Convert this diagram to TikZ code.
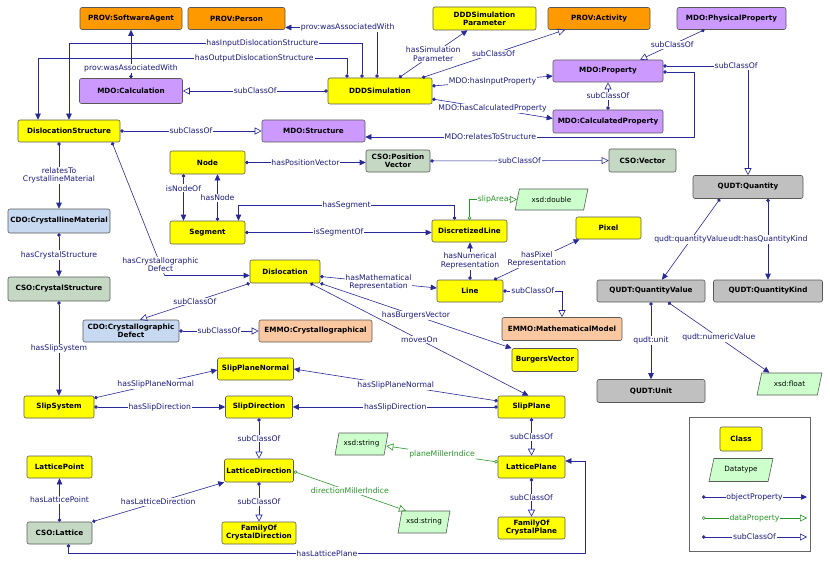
\documentclass[tikz,border=0pt]{standalone}
\usepackage{fontspec}
\setmainfont{DejaVu Sans}
\usetikzlibrary{arrows.meta,shapes.geometric}

\definecolor{clsyellow}{RGB}{255,255,0}
\definecolor{provorange}{RGB}{255,153,0}
\definecolor{mdopurple}{RGB}{204,153,255}
\definecolor{cdoblue}{RGB}{198,217,241}
\definecolor{csogreen}{RGB}{196,216,196}
\definecolor{qudtgray}{RGB}{192,192,192}
\definecolor{emmopeach}{RGB}{250,200,160}
\definecolor{dtgreen}{RGB}{204,255,204}
\definecolor{edgeblue}{RGB}{40,40,150}
\definecolor{textblue}{RGB}{26,26,128}
\definecolor{datagreen}{RGB}{40,150,40}

\tikzset{
  box/.style={rectangle, rounded corners=2pt, draw=black!65, line width=0.6pt, inner sep=1pt,
    align=center, font=\fontsize{7.2}{8}\selectfont\bfseries, minimum height=22pt},
  cls/.style={box, fill=clsyellow},
  prov/.style={box, fill=provorange},
  mdo/.style={box, fill=mdopurple},
  cdo/.style={box, fill=cdoblue},
  cso/.style={box, fill=csogreen},
  qudt/.style={box, fill=qudtgray},
  emmo/.style={box, fill=emmopeach},
  dtype/.style={trapezium, trapezium left angle=70, trapezium right angle=110, trapezium stretches=true,
    draw=black!65, line width=0.6pt, fill=dtgreen, inner sep=1pt, font=\fontsize{7.2}{8}\selectfont, minimum height=21pt},
  objprop/.style={draw=edgeblue, line width=0.6pt, {Circle[length=3.5pt]}-{Triangle[length=6pt,width=5.5pt]}},
  subcls/.style={draw=edgeblue, line width=0.6pt, {Circle[length=3.5pt]}-{Triangle[open,length=7pt,width=7pt]}},
  dataprop/.style={draw=datagreen, line width=0.6pt, {Circle[open,length=3.5pt]}-{Triangle[open,length=7pt,width=7pt]}},
  lbl/.style={fill=white, inner sep=0.8pt, text=textblue, font=\fontsize{7.7}{8.5}\selectfont},
  dlbl/.style={lbl, text=datagreen},
}

\begin{document}
\begin{tikzpicture}[x=1pt,y=-1pt]
\useasboundingbox (0,0) rectangle (830,567);

\node[prov, minimum width=102pt] (softagent) at (131,18.5) {PROV:SoftwareAgent};
\node[prov, minimum width=97pt] (person) at (236.5,18.5) {PROV:Person};
\node[cls, minimum width=103pt, minimum height=23pt] (simparam) at (484.5,18.5) {DDDSimulation\\Parameter};
\node[prov, minimum width=102pt] (activity) at (599,18.5) {PROV:Activity};
\node[mdo, minimum width=109pt] (physprop) at (731.5,18.5) {MDO:PhysicalProperty};
\node[mdo, minimum width=103pt, minimum height=25pt] (mcalc) at (131,91) {MDO:Calculation};
\node[cls, minimum width=104pt, minimum height=26pt] (sim) at (380,91) {DDDSimulation};
\node[mdo, minimum width=110pt] (prop) at (608,71) {MDO:Property};
\node[mdo, minimum width=110pt, minimum height=23pt] (calcprop) at (608,121.5) {MDO:CalculatedProperty};
\node[cls, minimum width=102pt] (dstruct) at (69,131) {DislocationStructure};
\node[mdo, minimum width=103pt] (structure) at (313.5,131) {MDO:Structure};
\node[cls, minimum width=75pt, minimum height=23pt] (gnode) at (207.5,162.5) {Node};
\node[cso, minimum width=64pt] (posvec) at (398,161) {CSO:Position\\Vector};
\node[cso, minimum width=67pt, minimum height=23pt] (vector) at (642.5,160.5) {CSO:Vector};
\node[qudt, minimum width=110pt, minimum height=23pt] (quantity) at (748,187) {QUDT:Quantity};
\node[cdo, minimum width=102pt, minimum height=24pt] (crysmat) at (59,221) {CDO:CrystallineMaterial};
\node[cls, minimum width=75pt, minimum height=23pt] (segment) at (207.5,232.5) {Segment};
\node[dtype, minimum width=73pt] (xdouble) at (551.5,199.5) {xsd:double};
\node[cls, minimum width=75pt] (dline) at (469.5,231) {DiscretizedLine};
\node[cls, minimum width=65pt] (pixel) at (608.5,228) {Pixel};
\node[cls, minimum width=70pt, minimum height=23pt] (disloc) at (285,271.5) {Dislocation};
\node[cls, minimum width=66pt] (mline) at (470,291) {Line};
\node[cso, minimum width=102pt, minimum height=24pt] (crysstruct) at (59,289) {CSO:CrystalStructure};
\node[qudt, minimum width=108pt] (qvalue) at (651,291) {QUDT:QuantityValue};
\node[qudt, minimum width=109pt] (qkind) at (768,291) {QUDT:QuantityKind};
\node[cdo, minimum width=96pt] (crysdefect) at (131,331) {CDO:Crystallographic\\Defect};
\node[emmo, minimum width=113pt] (emmocryst) at (315.5,331) {EMMO:Crystallographical};
\node[emmo, minimum width=120pt, minimum height=23pt] (mathmodel) at (562,329) {EMMO:MathematicalModel};
\node[cls, minimum width=66pt, minimum height=23pt] (burgers) at (545,360) {BurgersVector};
\node[cls, minimum width=76pt] (spnormal) at (255.5,369) {SlipPlaneNormal};
\node[cls, minimum width=70pt] (slipsys) at (59,407) {SlipSystem};
\node[cls, minimum width=67pt] (slipdir) at (259,407) {SlipDirection};
\node[cls, minimum width=67pt] (slipplane) at (531.5,407) {SlipPlane};
\node[qudt, minimum width=108pt, minimum height=23pt] (qunit) at (651,391) {QUDT:Unit};
\node[dtype, minimum width=65pt, minimum height=22pt] (xfloat) at (789.5,384) {xsd:float};
\node[cls, minimum width=65pt] (lpoint) at (59.5,467) {LatticePoint};
\node[cso, minimum width=65pt] (lattice) at (59.5,533) {CSO:Lattice};
\node[cls, minimum width=69pt, minimum height=23pt] (ldir) at (259,470.5) {LatticeDirection};
\node[cls, minimum width=74pt] (famdir) at (259,533) {FamilyOf\\CrystalDirection};
\node[dtype, minimum width=53pt, minimum height=22pt] (xstr1) at (361.5,444) {xsd:string};
\node[dtype, minimum width=52pt, minimum height=22pt] (xstr2) at (424,522) {xsd:string};
\node[cls, minimum width=67pt] (lplane) at (531.5,467) {LatticePlane};
\node[cls, minimum width=67pt] (famplane) at (531.5,528) {FamilyOf\\CrystalPlane};

\draw[objprop] (mcalc) -- (softagent) node[lbl,pos=0.2] {prov:wasAssociatedWith};
\draw[objprop] ([xshift=-3pt]sim.north) |- ([yshift=-9pt]person.east) node[lbl,pos=0.66] {prov:wasAssociatedWith};
\draw[objprop] ([xshift=-18pt]sim.north) -- ++(0,-34) -| (dstruct.north) node[lbl,pos=0.17] {hasInputDislocationStructure};
\draw[objprop] ([xshift=-33pt]sim.north) -- ++(0,-19) -| ([xshift=-31pt]dstruct.north) node[lbl,pos=0.15] {hasOutputDislocationStructure};
\draw[objprop] ([xshift=19pt]sim.north) -- ([xshift=-17pt]simparam.south) node[lbl,midway,align=center] {hasSimulation\\Parameter};
\draw[subcls] ([xshift=42pt]sim.north) -- ([xshift=-34pt]activity.south) node[lbl,midway] {subClassOf};
\draw[objprop] ([yshift=5pt]sim.east) -- ([yshift=-5pt]prop.west) node[lbl,midway] {MDO:hasInputProperty};
\draw[objprop] ([yshift=-8pt]sim.east) -- ([yshift=3pt]calcprop.west) node[lbl,midway] {MDO:hasCalculatedProperty};
\draw[subcls] (sim) -- (mcalc) node[lbl,midway] {subClassOf};
\draw[subcls] (dstruct) -- (structure) node[lbl,midway] {subClassOf};
\draw[objprop] ([yshift=-1pt]prop.east) -- ++(31,0) |- ([yshift=-6pt]structure.east) node[lbl,pos=0.81] {MDO:relatesToStructure};
\draw[subcls] (calcprop) -- (prop) node[lbl,midway] {subClassOf};
\draw[subcls] ([xshift=-27pt]physprop.south) -- ([xshift=32pt]prop.north) node[lbl,midway] {subClassOf};
\draw[subcls] ([yshift=5pt]prop.east) -| (quantity.north) node[lbl,pos=0.43] {subClassOf};

\draw[objprop] (gnode.east) -- (gnode.east -| posvec.west) node[lbl,midway] {hasPositionVector};
\draw[subcls] (posvec) -- (vector) node[lbl,midway] {subClassOf};
\draw[objprop] ([xshift=-24pt]gnode.south) -- ([xshift=-24pt]segment.north) node[lbl,pos=0.3] {isNodeOf};
\draw[objprop] ([xshift=10pt]segment.north) -- ([xshift=10pt]gnode.south) node[lbl,pos=0.49] {hasNode};
\draw[objprop] (segment.east) -- (segment.east -| dline.west) node[lbl,midway] {isSegmentOf};
\draw[objprop] ([xshift=-15pt]dline.north) -- ++(0,-14) -| ([xshift=31pt]segment.north) node[lbl,pos=0.25] {hasSegment};
\draw[dataprop] (dline.north) |- (xdouble.west) node[dlbl,pos=0.75] {slipArea};
\draw[objprop] (mline.north) -- (mline.north |- dline.south) node[lbl,midway,align=center] {hasNumerical\\Representation};
\draw[objprop] ([xshift=24pt]mline.north) -- ([xshift=-29pt]pixel.south) node[lbl,midway,align=center] {hasPixel\\Representation};
\draw[objprop] ([yshift=-5pt]disloc.east) -- ([yshift=3pt]mline.west) node[lbl,midway,align=center] {hasMathematical\\Representation};
\draw[subcls] (mline.east) -| (mathmodel.north) node[lbl,pos=0.25] {subClassOf};
\draw[objprop] (disloc.south east) -- (burgers.north west) node[lbl,midway] {hasBurgersVector};
\draw[objprop] ([xshift=-10pt]disloc.south east) -- ([xshift=-3pt]slipplane.north) node[lbl,midway] {movesOn};
\draw[subcls] (disloc.south west) -- ([xshift=9pt]crysdefect.north) node[lbl,midway] {subClassOf};
\draw[objprop] ([xshift=43pt]dstruct.south) -- ([xshift=-85pt,yshift=-4pt]disloc.west)
  node[lbl,pos=0.92,align=center] {hasCrystallographic\\Defect} -- ([yshift=-4pt]disloc.west);

\draw[objprop] ([xshift=-10pt]dstruct.south) -- (crysmat.north) node[lbl,midway,align=center] {relatesTo\\CrystallineMaterial};
\draw[objprop] (crysmat) -- (crysstruct) node[lbl,midway] {hasCrystalStructure};
\draw[objprop] (crysstruct) -- (slipsys) node[lbl,midway] {hasSlipSystem};
\draw[subcls] (crysdefect) -- (emmocryst) node[lbl,midway] {subClassOf};
\draw[objprop] ([yshift=9pt]slipsys.east) -- ([yshift=-1pt]spnormal.west) node[lbl,midway] {hasSlipPlaneNormal};
\draw[objprop] (slipsys) -- (slipdir) node[lbl,midway] {hasSlipDirection};
\draw[objprop] ([yshift=6pt]slipplane.west) -- (spnormal.east) node[lbl,midway] {hasSlipPlaneNormal};
\draw[objprop] (slipplane) -- (slipdir) node[lbl,midway] {hasSlipDirection};
\draw[subcls] (slipdir) -- (ldir) node[lbl,midway] {subClassOf};
\draw[subcls] (slipplane) -- (lplane) node[lbl,midway] {subClassOf};
\draw[subcls] (ldir) -- (famdir) node[lbl,midway] {subClassOf};
\draw[subcls] (lplane) -- (famplane) node[lbl,midway] {subClassOf};
\draw[dataprop] ([yshift=-1pt]ldir.east) -- ([xshift=-18pt]xstr2.north) node[dlbl,midway] {directionMillerIndice};
\draw[dataprop] ([yshift=5pt]lplane.west) -- ([yshift=-2pt]xstr1.east) node[dlbl,midway] {planeMillerIndice};
\draw[objprop] (lattice) -- (lpoint) node[lbl,midway] {hasLatticePoint};
\draw[objprop] (lattice.north east) -- (ldir.south west) node[lbl,midway] {hasLatticeDirection};
\draw[objprop] ([xshift=9pt]lattice.south) -- ++(0,9) -| ([xshift=20pt,yshift=6pt]lplane.east)
  node[lbl,pos=0.25] {hasLatticePlane} -- ([yshift=6pt]lplane.east);

\draw[objprop] ([xshift=-28pt]quantity.south) -- ([xshift=11pt]qvalue.north) node[lbl,midway] {qudt:quantityValue};
\draw[objprop] ([xshift=20pt]quantity.south) -- (qkind.north) node[lbl,midway] {udt:hasQuantityKind};
\draw[objprop] (qvalue) -- (qunit) node[lbl,midway] {qudt:unit};
\draw[objprop] ([xshift=17pt]qvalue.south) -- ([xshift=-20pt]xfloat.north) node[lbl,midway] {qudt:numericValue};

\node[draw=black!60, line width=0.6pt, minimum width=121pt, minimum height=134pt, inner sep=0pt] (legend) at (749.5,484) {};
\node[cls, minimum width=42pt, minimum height=24pt] (lgclass) at (741,439) {Class};
\node[dtype, minimum width=64pt, minimum height=23pt] (lgdtype) at (741,470) {Datatype};
\coordinate (lgobja) at (702,497);
\coordinate (lgobjb) at (807,497);
\coordinate (lgdata) at (702,518);
\coordinate (lgdatb) at (807,518);
\coordinate (lgsuba) at (702,537);
\coordinate (lgsubb) at (807,537);
\draw[objprop] (lgobja) -- (lgobjb) node[lbl,midway] {objectProperty};
\draw[dataprop] (lgdata) -- (lgdatb) node[dlbl,midway] {dataProperty};
\draw[subcls] (lgsuba) -- (lgsubb) node[lbl,midway] {subClassOf};
\end{tikzpicture}
\end{document}
